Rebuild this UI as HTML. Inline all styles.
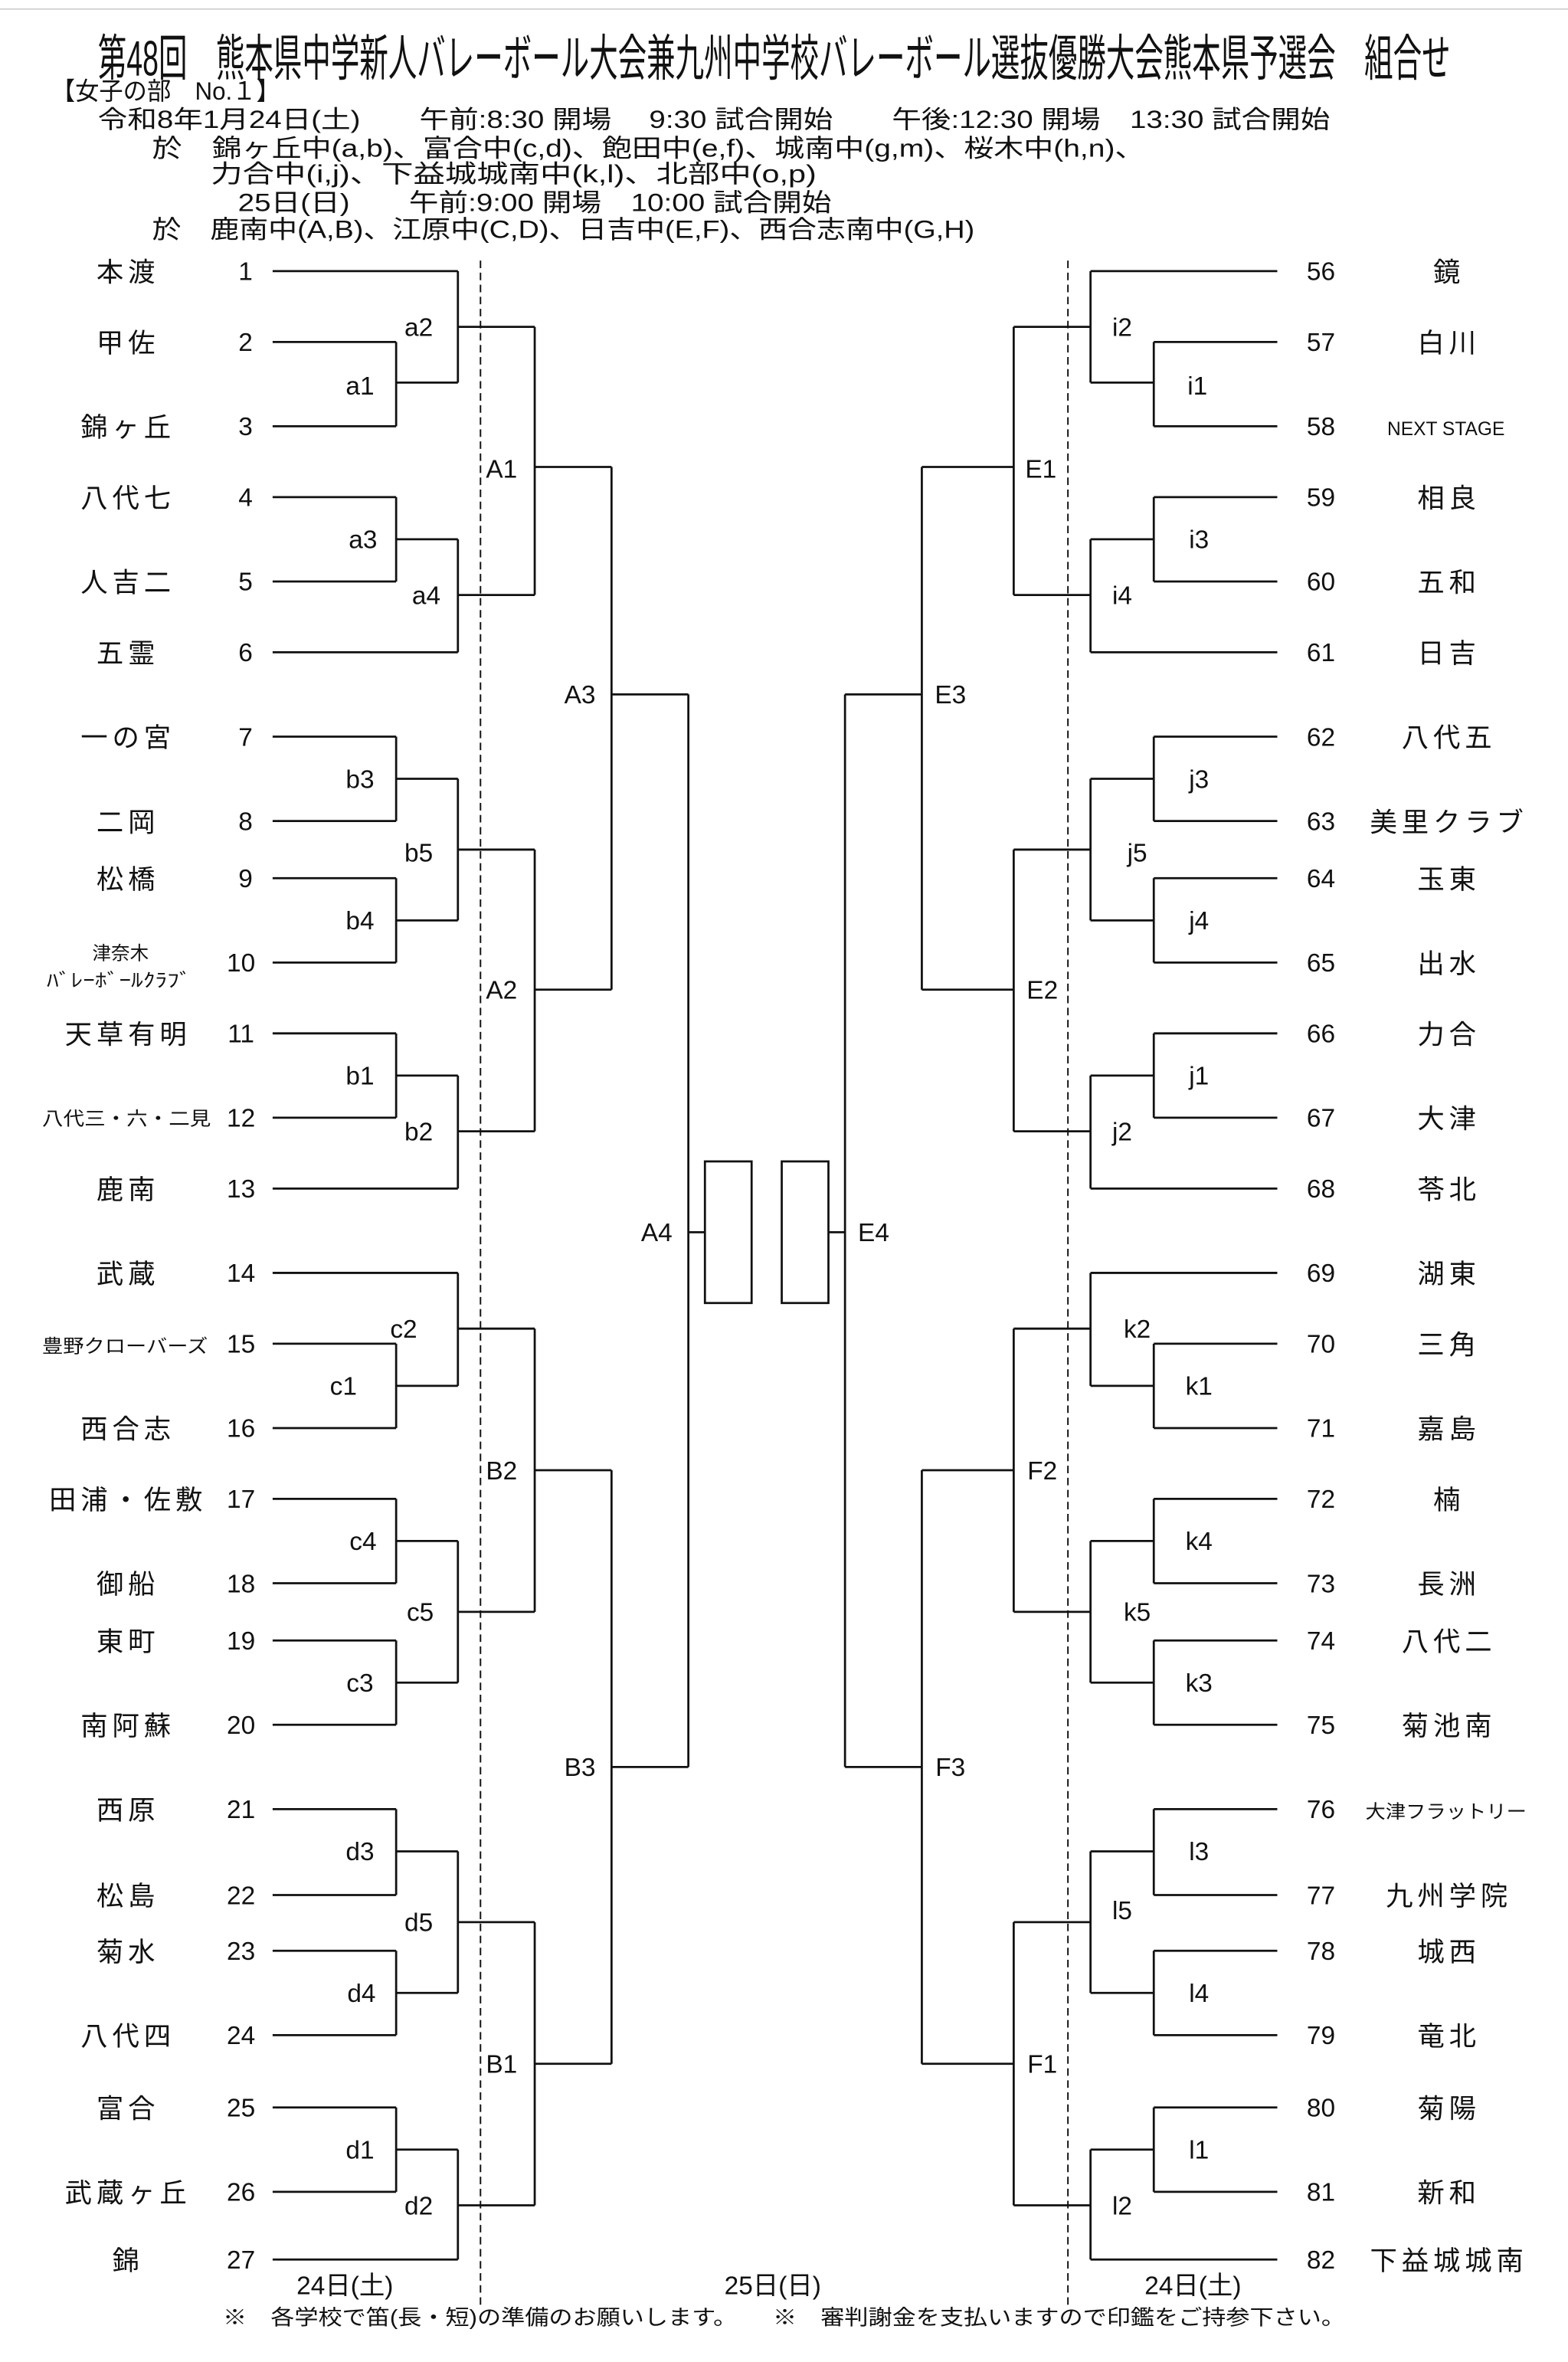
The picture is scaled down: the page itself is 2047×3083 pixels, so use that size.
<!DOCTYPE html>
<html><head><meta charset="utf-8"><style>
html,body{margin:0;padding:0;background:#fff;width:2047px;height:3083px;overflow:hidden}
svg{display:block}
text{font-family:"Liberation Sans","Noto Sans CJK JP",sans-serif;fill:#111}
.n{font-size:18px;text-anchor:middle;letter-spacing:3px}
.s{font-size:12.5px;text-anchor:middle}
.d{font-size:17px;text-anchor:middle}
.l{font-size:17px;text-anchor:middle}
.h{font-size:16.5px}
</style></head><body>
<svg width="2047" height="3083" viewBox="0 0 1041 1568" preserveAspectRatio="none" xmlns="http://www.w3.org/2000/svg">
<line x1="0" y1="6" x2="1041" y2="6" stroke="#ccc" stroke-width="0.8"/>
<text x="65" y="50" font-size="33" textLength="898" lengthAdjust="spacingAndGlyphs">第48回　熊本県中学新人バレーボール大会兼九州中学校バレーボール選抜優勝大会熊本県予選会　組合せ</text>
<text class="h" x="34" y="66" textLength="152" lengthAdjust="spacingAndGlyphs">【女子の部　No.１】</text>
<text class="h" x="65" y="85" textLength="818" lengthAdjust="spacingAndGlyphs">令和8年1月24日(土)　　午前:8:30 開場　 9:30 試合開始　　午後:12:30 開場　13:30 試合開始</text>
<text class="h" x="101" y="104" textLength="659" lengthAdjust="spacingAndGlyphs">於　錦ヶ丘中(a,b)、富合中(c,d)、飽田中(e,f)、城南中(g,m)、桜木中(h,n)、</text>
<text class="h" x="140" y="121" textLength="402" lengthAdjust="spacingAndGlyphs">力合中(i,j)、下益城城南中(k,l)、北部中(o,p)</text>
<text class="h" x="158" y="140" textLength="394" lengthAdjust="spacingAndGlyphs">25日(日)　　午前:9:00 開場　10:00 試合開始</text>
<text class="h" x="101" y="158" textLength="546" lengthAdjust="spacingAndGlyphs">於　鹿南中(A,B)、江原中(C,D)、日吉中(E,F)、西合志南中(G,H)</text>

<g stroke="#111" stroke-width="1.4" fill="none">
<path d="M181 180H304M181 227H263M181 283H263M181 330H263M181 386H263M181 433H304M181 489H263M181 545H263M181 583H263M181 639H263M181 686H263M181 742H263M181 789H304M181 845H304M181 892H263M181 948H263M181 995H263M181 1051H263M181 1089H263M181 1145H263M181 1201H263M181 1258H263M181 1295H263M181 1351H263M181 1399H263M181 1455H263M181 1500H304"/>
<path d="M263 227V283M263 254H304M304 180V254M304 217H355M263 330V386M263 358H304M304 358V433M304 395H355M355 217V395M355 310H406"/>
<path d="M263 489V545M263 517H304M263 583V639M263 611H304M304 517V611M304 564H355M263 686V742M263 714H304M304 714V789M304 751H355M355 564V751M355 657H406M406 310V657M406 461H457"/>
<path d="M263 892V948M263 920H304M304 845V920M304 882H355M263 995V1051M263 1023H304M263 1089V1145M263 1117H304M304 1023V1117M304 1070H355M355 882V1070M355 976H406"/>
<path d="M263 1201V1258M263 1229H304M263 1295V1351M263 1323H304M304 1229V1323M304 1276H355M263 1399V1455M263 1427H304M304 1427V1500M304 1464H355M355 1276V1464M355 1370H406M406 976V1370M406 1173H457M457 461V1173M457 818H468"/>
<path d="M848 180H724M848 227H766M848 283H766M848 330H766M848 386H766M848 433H724M848 489H766M848 545H766M848 583H766M848 639H766M848 686H766M848 742H766M848 789H724M848 845H724M848 892H766M848 948H766M848 995H766M848 1051H766M848 1089H766M848 1145H766M848 1201H766M848 1258H766M848 1295H766M848 1351H766M848 1399H766M848 1455H766M848 1500H724"/>
<path d="M766 227V283M766 254H724M724 180V254M724 217H673M766 330V386M766 358H724M724 358V433M724 395H673M673 217V395M673 310H612"/>
<path d="M766 489V545M766 517H724M766 583V639M766 611H724M724 517V611M724 564H673M766 686V742M766 714H724M724 714V789M724 751H673M673 564V751M673 657H612M612 310V657M612 461H561"/>
<path d="M766 892V948M766 920H724M724 845V920M724 882H673M766 995V1051M766 1023H724M766 1089V1145M766 1117H724M724 1023V1117M724 1070H673M673 882V1070M673 976H612"/>
<path d="M766 1201V1258M766 1229H724M766 1295V1351M766 1323H724M724 1229V1323M724 1276H673M766 1399V1455M766 1427H724M724 1427V1500M724 1464H673M673 1276V1464M673 1370H612M612 976V1370M612 1173H561M561 461V1173M561 818H550"/>
<rect x="468" y="771" width="31" height="94"/>
<rect x="519" y="771" width="31" height="94"/>
</g>
<g stroke="#111" stroke-width="1" stroke-dasharray="5 3">
<line x1="319" y1="173" x2="319" y2="1532"/>
<line x1="709" y1="173" x2="709" y2="1532"/>
</g>

<g class="l">
<text class="l" x="239" y="262">a1</text><text class="l" x="278" y="223">a2</text><text class="l" x="241" y="364">a3</text><text class="l" x="283" y="401">a4</text>
<text class="l" x="333" y="317">A1</text>
<text class="l" x="239" y="523">b3</text><text class="l" x="239" y="617">b4</text><text class="l" x="278" y="572">b5</text><text class="l" x="239" y="720">b1</text><text class="l" x="278" y="757">b2</text>
<text class="l" x="333" y="663">A2</text><text class="l" x="385" y="467">A3</text><text class="l" x="436" y="824">A4</text>
<text class="l" x="228" y="926">c1</text><text class="l" x="268" y="888">c2</text><text class="l" x="241" y="1029">c4</text><text class="l" x="239" y="1123">c3</text><text class="l" x="279" y="1076">c5</text>
<text class="l" x="333" y="982">B2</text>
<text class="l" x="239" y="1235">d3</text><text class="l" x="240" y="1329">d4</text><text class="l" x="278" y="1282">d5</text><text class="l" x="239" y="1433">d1</text><text class="l" x="278" y="1470">d2</text>
<text class="l" x="333" y="1376">B1</text><text class="l" x="385" y="1179">B3</text>
<text class="l" x="795" y="262">i1</text><text class="l" x="745" y="223">i2</text><text class="l" x="796" y="364">i3</text><text class="l" x="745" y="401">i4</text>
<text class="l" x="691" y="317">E1</text>
<text class="l" x="796" y="523">j3</text><text class="l" x="796" y="617">j4</text><text class="l" x="755" y="572">j5</text><text class="l" x="796" y="720">j1</text><text class="l" x="745" y="757">j2</text>
<text class="l" x="692" y="663">E2</text><text class="l" x="631" y="467">E3</text><text class="l" x="580" y="824">E4</text>
<text class="l" x="796" y="926">k1</text><text class="l" x="755" y="888">k2</text><text class="l" x="796" y="1029">k4</text><text class="l" x="796" y="1123">k3</text><text class="l" x="755" y="1076">k5</text>
<text class="l" x="692" y="982">F2</text>
<text class="l" x="796" y="1235">l3</text><text class="l" x="796" y="1329">l4</text><text class="l" x="745" y="1274">l5</text><text class="l" x="796" y="1433">l1</text><text class="l" x="745" y="1470">l2</text>
<text class="l" x="692" y="1376">F1</text><text class="l" x="631" y="1179">F3</text>
</g>

<g>
<text class="d" x="163" y="186">1</text><text class="d" x="163" y="233">2</text><text class="d" x="163" y="289">3</text><text class="d" x="163" y="336">4</text><text class="d" x="163" y="392">5</text><text class="d" x="163" y="439">6</text><text class="d" x="163" y="495">7</text><text class="d" x="163" y="551">8</text><text class="d" x="163" y="589">9</text>
<text class="d" x="160" y="645">10</text><text class="d" x="160" y="692">11</text><text class="d" x="160" y="748">12</text><text class="d" x="160" y="795">13</text><text class="d" x="160" y="851">14</text><text class="d" x="160" y="898">15</text><text class="d" x="160" y="954">16</text><text class="d" x="160" y="1001">17</text><text class="d" x="160" y="1057">18</text><text class="d" x="160" y="1095">19</text><text class="d" x="160" y="1151">20</text><text class="d" x="160" y="1207">21</text><text class="d" x="160" y="1264">22</text><text class="d" x="160" y="1301">23</text><text class="d" x="160" y="1357">24</text><text class="d" x="160" y="1405">25</text><text class="d" x="160" y="1461">26</text><text class="d" x="160" y="1506">27</text>
<text class="d" x="877" y="186">56</text><text class="d" x="877" y="233">57</text><text class="d" x="877" y="289">58</text><text class="d" x="877" y="336">59</text><text class="d" x="877" y="392">60</text><text class="d" x="877" y="439">61</text><text class="d" x="877" y="495">62</text><text class="d" x="877" y="551">63</text><text class="d" x="877" y="589">64</text><text class="d" x="877" y="645">65</text><text class="d" x="877" y="692">66</text><text class="d" x="877" y="748">67</text><text class="d" x="877" y="795">68</text><text class="d" x="877" y="851">69</text><text class="d" x="877" y="898">70</text><text class="d" x="877" y="954">71</text><text class="d" x="877" y="1001">72</text><text class="d" x="877" y="1057">73</text><text class="d" x="877" y="1095">74</text><text class="d" x="877" y="1151">75</text><text class="d" x="877" y="1207">76</text><text class="d" x="877" y="1264">77</text><text class="d" x="877" y="1301">78</text><text class="d" x="877" y="1357">79</text><text class="d" x="877" y="1405">80</text><text class="d" x="877" y="1461">81</text><text class="d" x="877" y="1506">82</text>
</g>

<g>
<text class="n" x="85" y="187">本渡</text><text class="n" x="85" y="234">甲佐</text><text class="n" x="85" y="290">錦ヶ丘</text><text class="n" x="85" y="337">八代七</text><text class="n" x="85" y="393">人吉二</text><text class="n" x="85" y="440">五霊</text><text class="n" x="85" y="496">一の宮</text><text class="n" x="85" y="552">二岡</text><text class="n" x="85" y="590">松橋</text>
<text class="s" x="80" y="637">津奈木</text><text class="s" x="79" y="655" textLength="96" lengthAdjust="spacingAndGlyphs">ﾊﾞﾚｰﾎﾞｰﾙｸﾗﾌﾞ</text>
<text class="n" x="85" y="693">天草有明</text><text class="s" x="84" y="747" textLength="112" lengthAdjust="spacingAndGlyphs">八代三・六・二見</text><text class="n" x="85" y="796">鹿南</text><text class="n" x="85" y="852">武蔵</text><text class="s" x="83" y="898" textLength="110" lengthAdjust="spacingAndGlyphs">豊野クローバーズ</text><text class="n" x="85" y="955">西合志</text><text class="n" x="85" y="1002">田浦・佐敷</text><text class="n" x="85" y="1058">御船</text><text class="n" x="85" y="1096">東町</text><text class="n" x="85" y="1152">南阿蘇</text><text class="n" x="85" y="1208">西原</text><text class="n" x="85" y="1265">松島</text><text class="n" x="85" y="1302">菊水</text><text class="n" x="85" y="1358">八代四</text><text class="n" x="85" y="1406">富合</text><text class="n" x="85" y="1462">武蔵ヶ丘</text><text class="n" x="85" y="1507">錦</text>
<text class="n" x="962" y="187">鏡</text><text class="n" x="962" y="234">白川</text><text class="s" x="960" y="289" textLength="78" lengthAdjust="spacingAndGlyphs">NEXT STAGE</text><text class="n" x="962" y="337">相良</text><text class="n" x="962" y="393">五和</text><text class="n" x="962" y="440">日吉</text><text class="n" x="962" y="496">八代五</text><text class="n" x="962" y="552">美里クラブ</text><text class="n" x="962" y="590">玉東</text><text class="n" x="962" y="646">出水</text><text class="n" x="962" y="693">力合</text><text class="n" x="962" y="749">大津</text><text class="n" x="962" y="796">苓北</text><text class="n" x="962" y="852">湖東</text><text class="n" x="962" y="899">三角</text><text class="n" x="962" y="955">嘉島</text><text class="n" x="962" y="1002">楠</text><text class="n" x="962" y="1058">長洲</text><text class="n" x="962" y="1096">八代二</text><text class="n" x="962" y="1152">菊池南</text>
<text class="s" x="960" y="1207" textLength="107" lengthAdjust="spacingAndGlyphs">大津フラットリー</text><text class="n" x="962" y="1265">九州学院</text><text class="n" x="962" y="1302">城西</text><text class="n" x="962" y="1358">竜北</text><text class="n" x="962" y="1406">菊陽</text><text class="n" x="962" y="1462">新和</text><text class="n" x="962" y="1507">下益城城南</text>
</g>

<text class="d" x="229" y="1523">24日(土)</text>
<text class="d" x="513" y="1523">25日(日)</text>
<text class="d" x="792" y="1523">24日(土)</text>
<text x="148" y="1543" font-size="14" textLength="745" lengthAdjust="spacingAndGlyphs">※　各学校で笛(長・短)の準備のお願いします。　　※　審判謝金を支払いますので印鑑をご持参下さい。</text>
</svg>
</body></html>
